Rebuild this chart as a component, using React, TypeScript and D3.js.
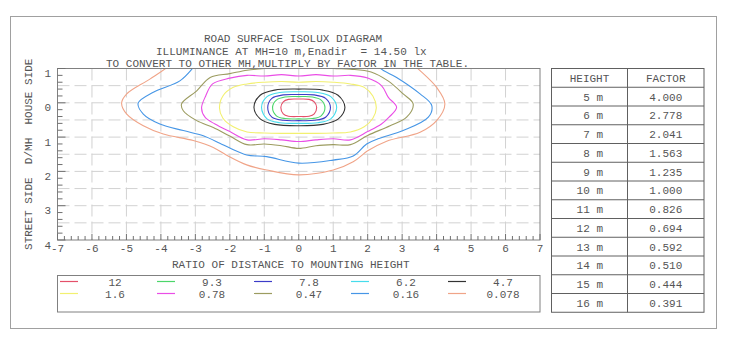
import React, { useEffect, useRef } from 'react';
import * as d3 from 'd3';

// isolux levels (lx) and their line colours
const levelLabels = ['12', '9.3', '7.8', '6.2', '4.7', '1.6', '0.78', '0.47', '0.16', '0.078'];
const levelColors = ['#e4506a', '#4cd66a', '#3c3cc8', '#46dcec', '#333333', '#f2f070', '#ea4ee6', '#9c9c60', '#4696e6', '#f0a488'];

// contour points: [ratio x, ratio y] (y > 0 = street side)
const c12 = [[-0.52, 0.14], [-0.45, -0.03], [-0.3, -0.1], [0, -0.11], [0.3, -0.1], [0.45, -0.03], [0.52, 0.14], [0.45, 0.32], [0.3, 0.39], [0, 0.4], [-0.3, 0.39], [-0.45, 0.32]];
const c93 = [[-0.76, 0.14], [-0.65, -0.08], [-0.4, -0.17], [0, -0.18], [0.4, -0.17], [0.65, -0.08], [0.76, 0.14], [0.65, 0.38], [0.4, 0.46], [0, 0.47], [-0.4, 0.46], [-0.65, 0.38]];
const c78 = [[-0.9, 0.14], [-0.78, -0.13], [-0.45, -0.23], [0, -0.24], [0.45, -0.23], [0.78, -0.13], [0.92, 0.14], [0.78, 0.42], [0.45, 0.51], [0, 0.52], [-0.45, 0.51], [-0.78, 0.42]];
const c62 = [[-1.08, 0.14], [-0.92, -0.18], [-0.55, -0.3], [0, -0.32], [0.55, -0.3], [0.93, -0.18], [1.1, 0.14], [0.93, 0.47], [0.55, 0.58], [0, 0.6], [-0.55, 0.58], [-0.92, 0.47]];
const c47 = [[-1.3, 0.13], [-1.12, -0.22], [-0.7, -0.37], [0, -0.4], [0.7, -0.37], [1.14, -0.22], [1.34, 0.13], [1.15, 0.47], [0.7, 0.63], [0, 0.67], [-0.7, 0.63], [-1.12, 0.47]];
const c16 = [[-2.3, 0.15], [-2.2, -0.2], [-1.9, -0.45], [-1.5, -0.55], [-1.0, -0.6], [-0.5, -0.62], [0, -0.6], [0.5, -0.62], [1.0, -0.6], [1.5, -0.55], [1.9, -0.45], [2.15, -0.2], [2.25, 0.15], [2.15, 0.45], [1.9, 0.7], [1.5, 0.85], [1.0, 0.88], [0.5, 0.89], [0, 0.89], [-0.5, 0.89], [-1.0, 0.88], [-1.5, 0.85], [-1.9, 0.7], [-2.2, 0.45]];
const c078 = [[-1.5, -0.8], [-2.0, -0.72], [-2.5, -0.55], [-2.7, -0.2], [-2.82, 0.15], [-2.72, 0.42], [-2.43, 0.62], [-2.0, 0.84], [-1.5, 1.08], [-1.0, 1.05], [-0.5, 1.08], [0, 1.13], [0.5, 1.08], [1.0, 1.05], [1.5, 1.08], [2.0, 0.84], [2.4, 0.62], [2.62, 0.42], [2.84, 0.13], [2.6, -0.16], [2.4, -0.5], [2.0, -0.72], [1.5, -0.8], [1.0, -0.78], [0.5, -0.82], [0, -0.78], [-0.5, -0.82], [-1.0, -0.78]];
const c047 = [[-1.0, -1.0], [-1.5, -0.95], [-2.0, -0.85], [-2.57, -0.74], [-2.96, -0.35], [-3.4, 0.03], [-3.35, 0.23], [-2.96, 0.52], [-2.48, 0.72], [-2.0, 0.97], [-1.5, 1.22], [-1.0, 1.2], [-0.5, 1.25], [0, 1.33], [0.5, 1.25], [1.0, 1.22], [1.5, 1.22], [2.0, 0.95], [2.65, 0.67], [3.13, 0.42], [3.32, 0.03], [3.03, -0.26], [2.59, -0.64], [2.1, -0.9], [1.5, -0.98], [1.0, -1.0], [0.5, -1.05], [0, -1.02], [-0.5, -1.05]];
const c0016 = [[-2.7, -1.5], [-3.06, -1.03], [-3.45, -0.64], [-4.22, -0.31], [-4.66, 0.01], [-4.51, 0.33], [-4.03, 0.62], [-3.35, 0.81], [-2.77, 0.96], [-2.29, 1.18], [-2.0, 1.32], [-1.51, 1.52], [-0.93, 1.57], [0, 1.76], [1.0, 1.67], [1.58, 1.55], [1.97, 1.2], [2.3, 1.05], [3.03, 0.81], [3.76, 0.42], [3.86, 0.08], [3.52, -0.26], [2.84, -0.74], [2.36, -1.01], [2.0, -1.5]];
const c0078 = [[-3.2, -1.6], [-3.69, -1.13], [-4.32, -0.69], [-4.99, -0.26], [-5.14, 0.01], [-4.99, 0.33], [-4.51, 0.67], [-3.93, 0.91], [-3.06, 1.1], [-2.48, 1.3], [-2.05, 1.55], [-1.51, 1.81], [-0.93, 1.96], [0, 2.1], [1.0, 1.96], [1.58, 1.72], [2.0, 1.4], [2.55, 1.12], [3.52, 0.86], [4.0, 0.52], [4.24, 0.03], [4.0, -0.45], [3.32, -1.13], [2.9, -1.6]];
const contours = [c12, c93, c78, c62, c47, c16, c078, c047, c0016, c0078];

// conversion table
const heights = ['5 m', '6 m', '7 m', '8 m', '9 m', '10 m', '11 m', '12 m', '13 m', '14 m', '15 m', '16 m'];
const factors = ['4.000', '2.778', '2.041', '1.563', '1.235', '1.000', '0.826', '0.694', '0.592', '0.510', '0.444', '0.391'];

const titleLines = [
    'ROAD SURFACE ISOLUX DIAGRAM',
    'ILLUMINANCE AT MH=10 m,Enadir  = 14.50 lx',
    'TO CONVERT TO OTHER MH,MULTIPLY BY FACTOR IN THE TABLE.'
];

const CHAR_W = 6.6;

const App = () => {
    const ref = useRef<SVGSVGElement>(null);

    useEffect(() => {
        const svg = d3.select(ref.current);
        svg.selectAll('*').remove();
        const font = '"Courier New", "Liberation Mono", "DejaVu Sans Mono", "Noto Sans Mono", monospace';
        const textColor = '#555';

        // every label gets a fixed per-character advance so it reads as a typewriter face
        const mono = (g: any, s: string) => g.append('text')
            .attr('font-family', font).attr('font-size', 11).attr('fill', textColor)
            .attr('textLength', s.length * CHAR_W).attr('lengthAdjust', 'spacing')
            .style('white-space', 'pre').text(s);

        // outer frame
        svg.append('rect').attr('x', 10.5).attr('y', 16.5).attr('width', 706).attr('height', 312)
            .attr('fill', 'none').attr('stroke', '#a0a0a0');

        // titles
        const titleX = [204, 156, 106];
        const titleY = [41.5, 54.5, 66.5];
        titleLines.forEach((t, i) => {
            mono(svg, t).attr('x', titleX[i]).attr('y', titleY[i]);
        });

        // plot area
        const left = 57.5, right = 540, top = 68.5, bottom = 240;
        const x = d3.scaleLinear().domain([-7, 7]).range([left, right]);
        const y = d3.scaleLinear().domain([-1, 4]).range([top, bottom]);

        svg.append('clipPath').attr('id', 'plotClip')
            .append('rect').attr('x', left).attr('y', top).attr('width', right - left).attr('height', bottom - top);

        const grid = svg.append('g').attr('stroke', '#d2d2d2').attr('stroke-dasharray', '12,5');
        d3.range(-6, 7).forEach(v => {
            grid.append('line').attr('x1', x(v)).attr('x2', x(v)).attr('y1', top).attr('y2', bottom);
        });
        d3.range(-0.5, 4, 0.5).forEach(v => {
            grid.append('line').attr('x1', left).attr('x2', right).attr('y1', y(v)).attr('y2', y(v));
        });

        // contours
        const line = d3.line<number[]>()
            .x(d => x(d[0]))
            .y(d => y(d[1]))
            .curve(d3.curveCatmullRomClosed.alpha(0.5));
        const cg = svg.append('g').attr('clip-path', 'url(#plotClip)');
        contours.forEach((pts, i) => {
            cg.append('path').attr('d', line(pts))
                .attr('fill', 'none').attr('stroke', levelColors[i]).attr('stroke-width', 1.1);
        });

        // axes box and ticks
        svg.append('rect').attr('x', left).attr('y', top).attr('width', right - left).attr('height', bottom - top)
            .attr('fill', 'none').attr('stroke', '#808080');

        const ticks = svg.append('g').attr('stroke', '#707070');
        d3.range(-70, 71, 2).forEach(k => {
            const v = k / 10;
            const len = k % 10 === 0 ? 6 : 4;
            ticks.append('line').attr('x1', x(v)).attr('x2', x(v)).attr('y1', bottom).attr('y2', bottom - len);
        });
        d3.range(-10, 41, 2).forEach(k => {
            const v = k / 10;
            const len = k % 10 === 0 ? 8 : 5;
            ticks.append('line').attr('x1', left).attr('x2', left + len).attr('y1', y(v)).attr('y2', y(v));
        });

        x.ticks(14).forEach(v => {
            mono(svg, d3.format('d')(v).replace('−', '-'))
                .attr('x', x(v)).attr('y', bottom + 12).attr('text-anchor', 'middle');
        });
        y.ticks(5).forEach(v => {
            mono(svg, String(Math.abs(v)))
                .attr('x', 51).attr('y', y(v) + 8.5).attr('text-anchor', 'end');
        });

        mono(svg, 'RATIO OF DISTANCE TO MOUNTING HEIGHT')
            .attr('x', (left + right) / 2 - 8).attr('y', 268).attr('text-anchor', 'middle');

        mono(svg, 'STREET SIDE  D/MH  HOUSE SIDE')
            .attr('transform', `translate(32, ${(top + bottom) / 2}) rotate(-90)`)
            .attr('text-anchor', 'middle');

        // legend
        svg.append('rect').attr('x', left).attr('y', 275.5).attr('width', right - left).attr('height', 36.5)
            .attr('fill', 'none').attr('stroke', '#808080');
        levelLabels.forEach((lab, i) => {
            const col = i % 5, row = Math.floor(i / 5);
            const lx = 60 + col * 97, ly = 281.5 + row * 12;
            svg.append('line').attr('x1', lx).attr('x2', lx + 18).attr('y1', ly).attr('y2', ly)
                .attr('stroke', levelColors[i]).attr('stroke-width', 1.2);
            mono(svg, lab).attr('x', lx + 55).attr('y', ly + 4).attr('text-anchor', 'middle');
        });

        // factor table
        const tx0 = 551.5, tx1 = 627.5, tx2 = 704;
        const rowH = 18.75;
        const rows = [['HEIGHT', 'FACTOR'], ...heights.map((h, i) => [h, factors[i]])];
        const tbl = svg.append('g');
        tbl.append('rect').attr('x', tx0).attr('y', top).attr('width', tx2 - tx0).attr('height', rowH * rows.length)
            .attr('fill', 'none').attr('stroke', '#606060');
        tbl.append('line').attr('x1', tx1).attr('x2', tx1).attr('y1', top).attr('y2', top + rowH * rows.length)
            .attr('stroke', '#606060');
        rows.forEach((r, i) => {
            const ry = top + i * rowH;
            if (i > 0) {
                tbl.append('line').attr('x1', tx0).attr('x2', tx2).attr('y1', ry).attr('y2', ry).attr('stroke', '#606060');
            }
            const first = mono(tbl, r[0]).attr('y', ry + rowH / 2 + 4);
            if (i === 0) first.attr('x', (tx0 + tx1) / 2).attr('text-anchor', 'middle');
            else first.attr('x', 603).attr('text-anchor', 'end');
            mono(tbl, r[1]).attr('x', (tx1 + tx2) / 2).attr('y', ry + rowH / 2 + 4).attr('text-anchor', 'middle');
        });
    }, []);

    return (
        <svg ref={ref} width={736} height={353}
            style={{ position: 'absolute', left: 0, top: 0, background: '#fff' }} />
    );
};

export default App;
